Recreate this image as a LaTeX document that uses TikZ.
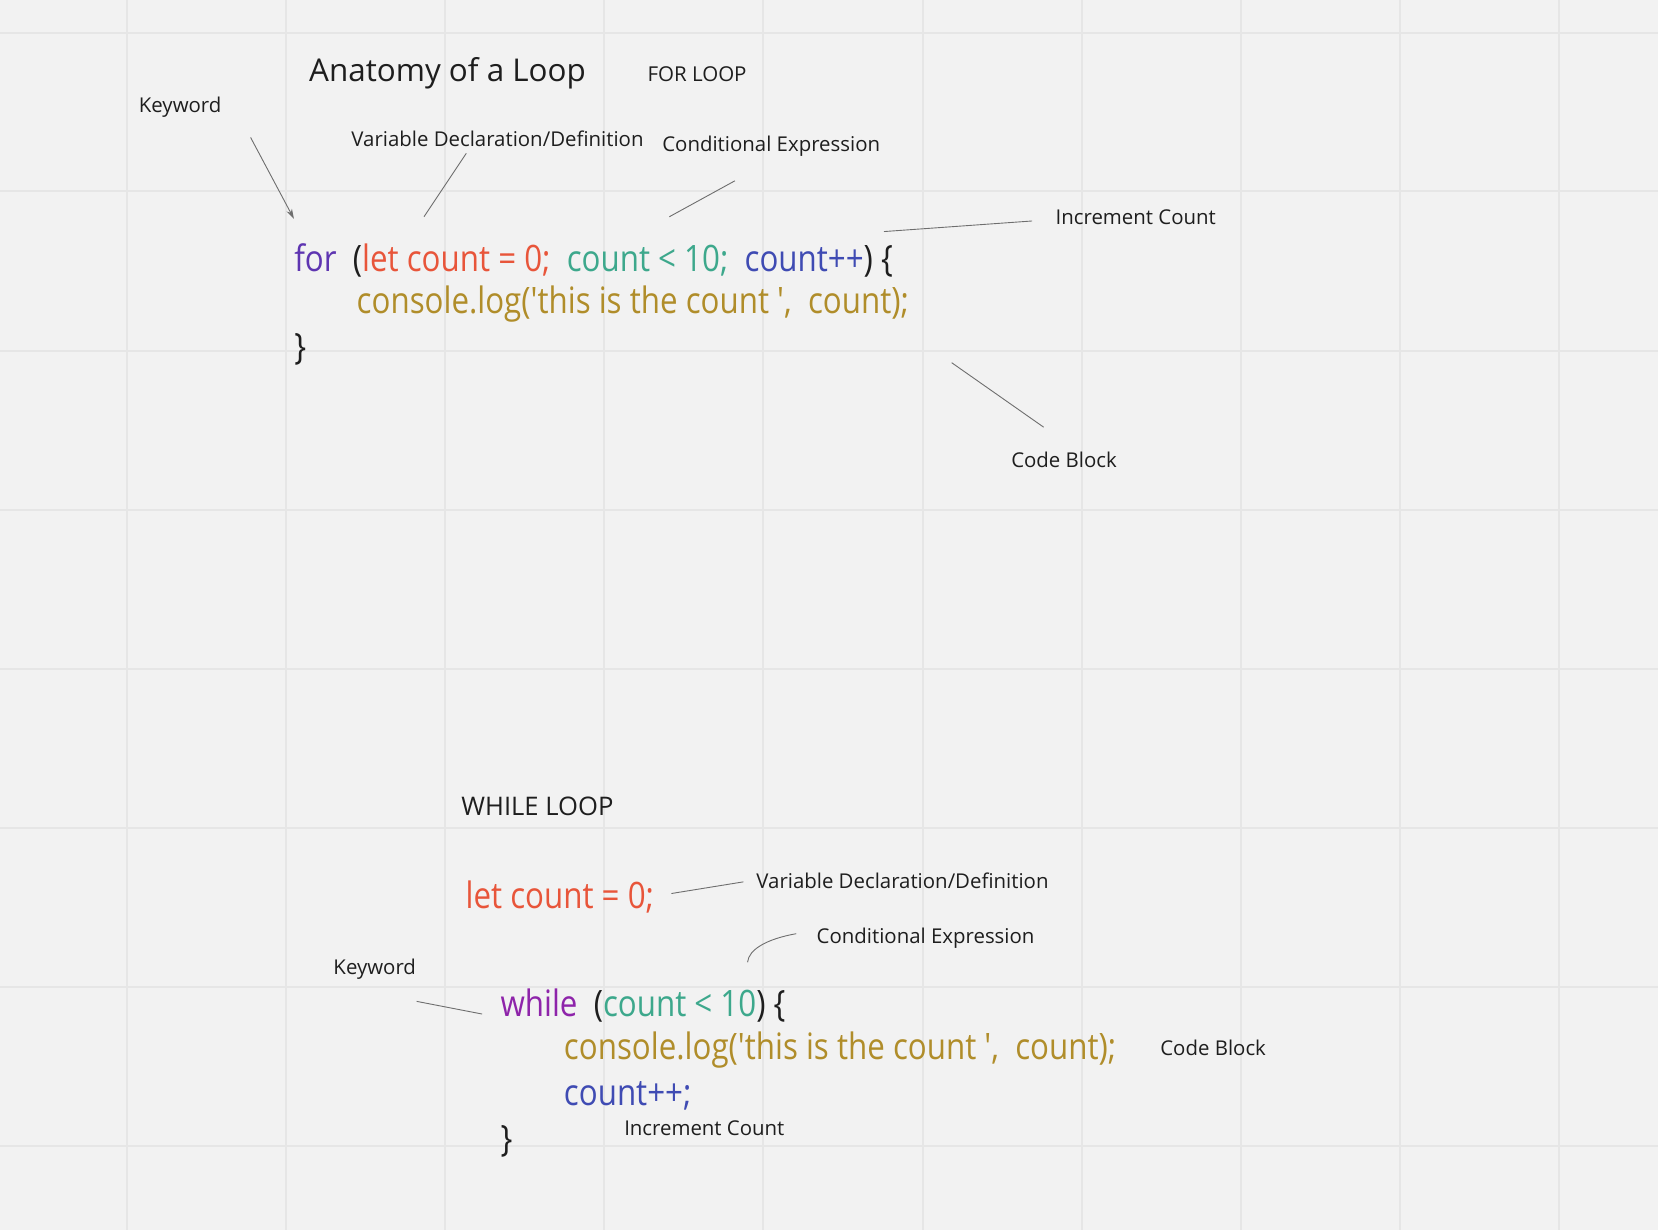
\documentclass[tikz,border=0pt]{standalone}
\usepackage{fontspec}
\setmainfont{Open Sans}
\newfontfamily\codefont[FakeStretch=0.86]{Open Sans}
\usetikzlibrary{arrows.meta}
\definecolor{bg}{HTML}{F2F2F2}
\definecolor{gridc}{HTML}{E6E6E6}
\definecolor{ink}{HTML}{1E1E1E}
\definecolor{kwfor}{HTML}{5E35B1}
\definecolor{kwwhile}{HTML}{8E24AA}
\definecolor{varc}{HTML}{E8553A}
\definecolor{condc}{HTML}{3DA88C}
\definecolor{incc}{HTML}{3F4BB3}
\definecolor{blockc}{HTML}{B08D2A}
\definecolor{linec}{HTML}{6E6E6E}
\tikzset{
  lbl/.style={anchor=west,inner sep=0pt,text=ink,font=\fontsize{10.2}{12}\selectfont},
  title/.style={anchor=west,inner sep=0pt,text=ink,font=\fontsize{15.7}{18}\selectfont},
  head/.style={anchor=west,inner sep=0pt,text=ink,font=\fontsize{12.8}{15}\selectfont},
  code/.style={anchor=west,inner sep=0pt,text=ink,font=\codefont\fontsize{18.2}{21}\selectfont},
  lead/.style={draw=linec,line width=0.45pt},
}
\begin{document}
\begin{tikzpicture}[x=0.5287pt,y=-0.5287pt]
\fill[bg] (0,0) rectangle (1568,1163);
\useasboundingbox (0,0) rectangle (1568,1163);
% grid
\foreach \gx in {120,270.5,421,571.5,722,872.5,1023,1173.5,1324,1474.5}
  \draw[gridc,line width=1pt] (\gx,0) -- (\gx,1163);
\foreach \gy in {31,181,331.5,482,632.5,783,933.5,1084}
  \draw[gridc,line width=1pt] (0,\gy) -- (1568,\gy);

% ---------- FOR LOOP ----------
\node[title] (title) at (292,69.5) {Anatomy of a Loop};
\node[head,font=\fontsize{10.25}{12}\selectfont] (forhead) at (612,70) {FOR LOOP};
\node[lbl] (kw1) at (131,101) {Keyword};
\node[lbl] (var1) at (332,131) {Variable Declaration/Definition};
\node[lbl] (cond1) at (626,138) {Conditional Expression};
\node[lbl] (inc1) at (998,205) {Increment Count};
\node[lbl] (blk1) at (956,435) {Code Block};

\node[code] (for1) at (278,246) {\textcolor{kwfor}{for}\ \ (\textcolor{varc}{let count = 0;}\ \ \textcolor{condc}{count < 10;}\ \ \textcolor{incc}{count++}) \{};
\node[code] (for2) at (337,288) {\textcolor{blockc}{console.log('this is the count~',\ \ count);}};
\node[code] (for3) at (278,330) {\}};

\coordinate (k1a) at (237,130); \coordinate (k1b) at (278,207);
\coordinate (v1a) at (441,145); \coordinate (v1b) at (401,205);
\coordinate (c1a) at (695,171); \coordinate (c1b) at (633,205);
\coordinate (i1a) at (976,209); \coordinate (i1b) at (836,219);
\coordinate (b1a) at (900,343); \coordinate (b1b) at (987,404);
\draw[lead,-{Stealth[length=5pt,width=3pt]}] (k1a) -- (k1b);
\draw[lead] (v1a) -- (v1b);
\draw[lead] (c1a) -- (c1b);
\draw[lead] (i1a) -- (i1b);
\draw[lead] (b1a) -- (b1b);

% ---------- WHILE LOOP ----------
\node[head] (whilehead) at (436,763) {WHILE LOOP};
\node[code] (let2) at (440,848) {\textcolor{varc}{let count = 0;}};
\node[lbl] (var2) at (715,833) {Variable Declaration/Definition};
\node[lbl] (cond2) at (772,887) {Conditional Expression};
\node[lbl] (kw2) at (315,917) {Keyword};
\node[code] (wh1) at (473,951) {\textcolor{kwwhile}{while}\ \ (\textcolor{condc}{count < 10}) \{};
\node[code] (wh2) at (533,993) {\textcolor{blockc}{console.log('this is the count~',\ \ count);}};
\node[code] (wh3) at (533,1036) {\textcolor{incc}{count++;}};
\node[code] (wh4) at (473,1079) {\}};
\node[lbl] (blk2) at (1097,991) {Code Block};
\node[lbl] (inc2) at (590,1067) {Increment Count};

\coordinate (v2a) at (635,845); \coordinate (v2b) at (703,834);
\coordinate (c2a) at (753,883); \coordinate (c2b) at (707,910);
\coordinate (k2a) at (394,947); \coordinate (k2b) at (456,959);
\draw[lead] (v2a) -- (v2b);
\draw[lead] (c2a) .. controls (725,888) and (708,898) .. (c2b);
\draw[lead] (k2a) -- (k2b);
\end{tikzpicture}
\end{document}
